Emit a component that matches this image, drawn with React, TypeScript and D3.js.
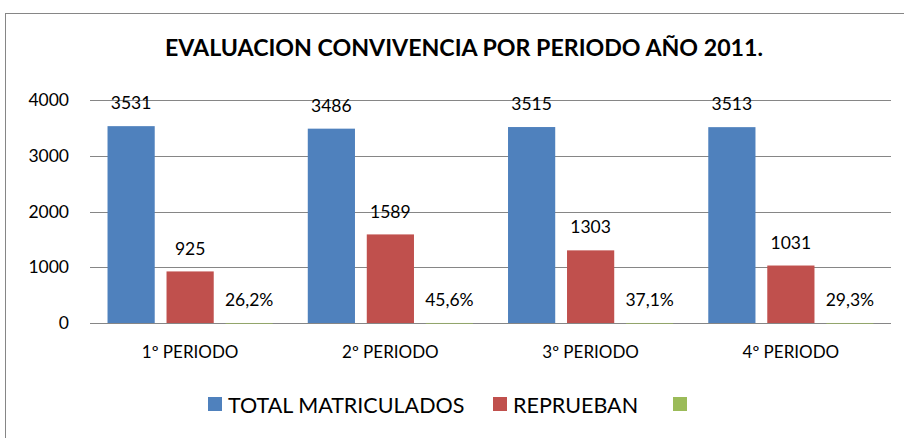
import { useMemo } from 'react';
import * as d3 from 'd3';

const categories = ['1º PERIODO', '2º PERIODO', '3º PERIODO', '4º PERIODO'];
const totalMatriculados = [3531, 3486, 3515, 3513];
const reprueban = [925, 1589, 1303, 1031];
const porcentaje = [0.262, 0.456, 0.371, 0.293];
const yTicks = [0, 1000, 2000, 3000, 4000];

const seriesNames = ['TOTAL MATRICULADOS', 'REPRUEBAN', ''];
const colors = ['#4F81BD', '#C0504D', '#9BBB59'];

const font = 'Lato, "Open Sans", sans-serif';

export default function App() {
  const width = 904;
  const height = 438;

  const x0 = useMemo(
    () => d3.scaleBand<string>().domain(categories).range([90, 891]).paddingInner(0.175).paddingOuter(0.0875),
    []
  );
  const x1 = useMemo(
    () => d3.scaleBand<number>().domain([0, 1, 2]).range([0, x0.bandwidth()]).paddingInner(0.2).paddingOuter(0),
    [x0]
  );
  const y = useMemo(() => d3.scaleLinear().domain([0, 4000]).range([323, 100]), []);

  const series = [totalMatriculados, reprueban, porcentaje];
  // third series holds the ratio, shown as a percentage with a decimal comma
  const fmtLabel = (s: number, v: number) =>
    s === 2 ? `${(v * 100).toFixed(1).replace('.', ',')}%` : `${v}`;

  return (
    <svg width={width} height={height} style={{ position: 'absolute', left: 0, top: 0, background: '#fff' }}>
      <rect x={5.5} y={13.5} width={1000} height={1000} fill="#fff" stroke="#868686" />
      <text x={464} y={56} textAnchor="middle" fontFamily={font} fontWeight="bold" fontSize={22}
        textLength={598} lengthAdjust="spacingAndGlyphs" fill="#000">
        EVALUACION CONVIVENCIA POR PERIODO AÑO 2011.
      </text>

      {yTicks.map(t => (
        <g key={t}>
          <line x1={90} x2={891} y1={Math.round(y(t)) + 0.5} y2={Math.round(y(t)) + 0.5} stroke="#868686" />
          <text x={69} y={y(t)} dy="0.35em" textAnchor="end" fontFamily={font} fontSize={17.5} fill="#000">
            {t}
          </text>
        </g>
      ))}

      {categories.map((c, i) => (
        <g key={c} transform={`translate(${x0(c)},0)`}>
          {series.map((vals, s) => {
            const v = vals[i];
            const bx = x1(s) ?? 0;
            const top = y(v);
            return (
              <g key={s}>
                <rect x={bx} y={top} width={x1.bandwidth()} height={Math.max(0.6, y(0) - top)} fill={colors[s]} />
                <text x={bx + x1.bandwidth() / 2} y={top - 23} dy="0.35em" textAnchor="middle"
                  fontFamily={font} fontSize={17.5} fill="#000">
                  {fmtLabel(s, v)}
                </text>
              </g>
            );
          })}
          <text x={x0.bandwidth() / 2} y={352} dy="0.35em" textAnchor="middle" fontFamily={font} fontSize={17} fill="#000">
            {c}
          </text>
        </g>
      ))}

      {[208, 493, 673].map((lx, s) => (
        <g key={s}>
          <rect x={lx} y={397} width={14} height={14} fill={colors[s]} />
          {seriesNames[s] && (
            <text x={lx + 20} y={405} dy="0.35em" fontFamily={font} fontSize={21.5} fill="#000">
              {seriesNames[s]}
            </text>
          )}
        </g>
      ))}
    </svg>
  );
}
